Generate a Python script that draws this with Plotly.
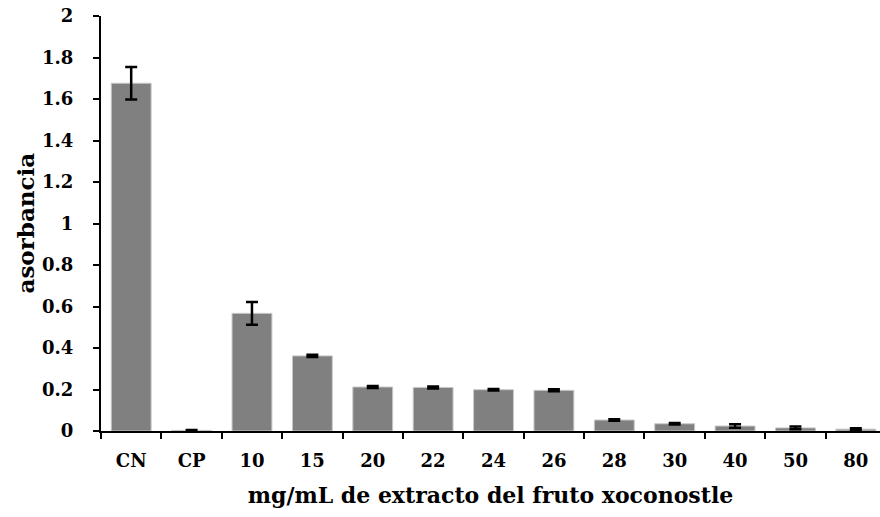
import plotly.graph_objects as go

categories = ["CN", "CP", "10", "15", "20", "22", "24", "26", "28", "30", "40", "50", "80"]
values = [1.676, 0.003, 0.567, 0.362, 0.212, 0.210, 0.199, 0.196, 0.053, 0.035, 0.024, 0.015, 0.009]
errors = [0.078, 0.002, 0.055, 0.005, 0.005, 0.005, 0.004, 0.005, 0.004, 0.004, 0.008, 0.007, 0.004]
y_ticks = [0, 0.2, 0.4, 0.6, 0.8, 1, 1.2, 1.4, 1.6, 1.8, 2]

FONT = "DejaVu Serif"

fig = go.Figure(go.Bar(
    x=categories, y=values,
    marker=dict(color="#808080", line=dict(color="#c8c8c8", width=1)),
    error_y=dict(type="data", array=errors, visible=True, color="black", thickness=2.5, width=6),
    width=0.66,
))

fig.update_layout(
    width=880, height=517,
    margin=dict(l=101, r=0, t=16, b=86),
    paper_bgcolor="white", plot_bgcolor="white",
    showlegend=False,
    font=dict(family=FONT, color="black"),
    xaxis=dict(
        type="category", range=[-0.5, 12.4],
        tickson="boundaries", ticks="outside", ticklen=6, tickwidth=2, tickcolor="black",
        showline=True, linecolor="black", linewidth=2, showgrid=False,
        ticklabelstandoff=12,
        tickfont=dict(family=FONT, size=18, color="black", weight="bold"),
        title=dict(text="<b>mg/mL de extracto del fruto xoconostle</b>", font=dict(family=FONT, size=22), standoff=18),
    ),
    yaxis=dict(
        range=[0, 2], tickvals=y_ticks, ticktext=[("%g" % v) for v in y_ticks],
        ticks="outside", ticklen=6, tickwidth=2, tickcolor="black",
        showline=True, linecolor="black", linewidth=2, showgrid=False, zeroline=False,
        ticklabelstandoff=16,
        tickfont=dict(family=FONT, size=18, color="black", weight="bold"),
    ),
    annotations=[dict(
        text="<b>asorbancia</b>", textangle=-90, showarrow=False,
        xref="paper", yref="paper", x=-76 / 779, y=0.5, xanchor="center", yanchor="middle",
        font=dict(family=FONT, size=23, color="black"),
    )],
)

fig.write_html("out.html")
